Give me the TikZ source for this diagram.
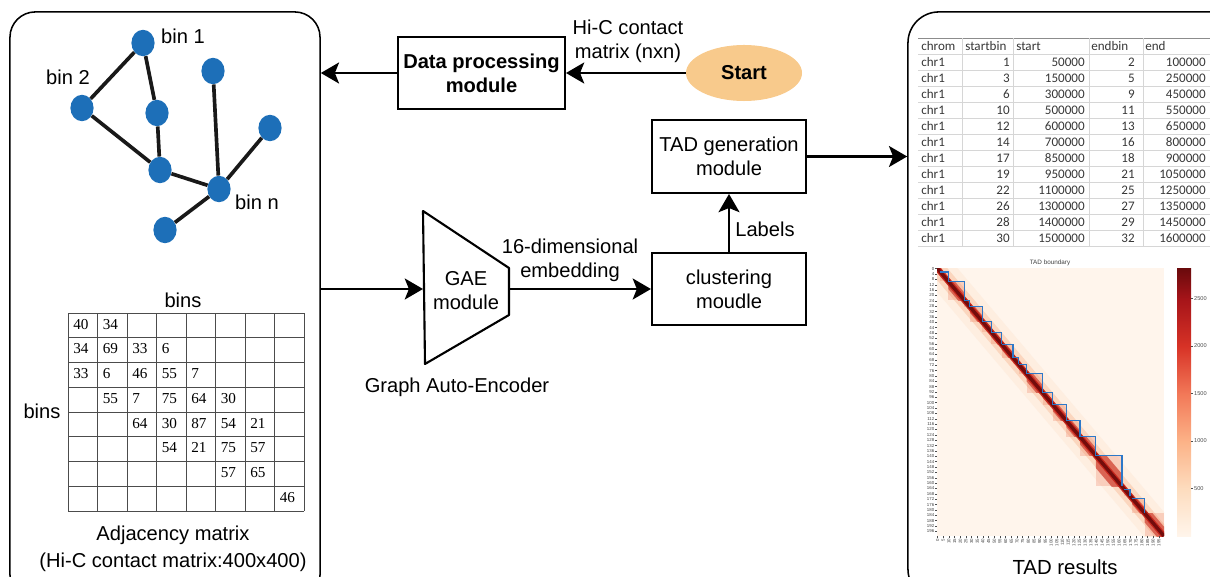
\documentclass[tikz,border=0pt]{standalone}
\usepackage{fontspec}
\setmainfont{Liberation Sans}
\newfontfamily\cellfont{Liberation Serif}
\newfontfamily\sheetfont{Carlito}
\usetikzlibrary{arrows.meta,shapes.geometric,positioning}

% colours
\definecolor{binblue}{RGB}{29,111,184}
\definecolor{startorange}{RGB}{248,202,140}
\definecolor{sheetgrid}{RGB}{214,214,214}
\definecolor{sheettext}{RGB}{55,55,55}
\definecolor{hmbg}{RGB}{255,245,236}
\definecolor{hmhalo}{RGB}{254,238,224}
\definecolor{hmband}{RGB}{251,214,190}
\definecolor{hmtad}{RGB}{240,135,105}
\definecolor{hmred}{RGB}{200,40,30}
\definecolor{hmdark}{RGB}{115,12,12}
\definecolor{tadblue}{RGB}{45,120,200}
\definecolor{cb0}{RGB}{255,245,235}
\definecolor{cb1}{RGB}{253,220,190}
\definecolor{cb2}{RGB}{252,178,135}
\definecolor{cb3}{RGB}{242,120,88}
\definecolor{cb4}{RGB}{215,50,38}
\definecolor{cb5}{RGB}{165,20,25}
\definecolor{cb6}{RGB}{105,10,12}

\tikzset{
  flow/.style={-{Stealth[length=13pt,width=15pt,inset=3pt]}, line width=1.5pt},
  module/.style={draw, line width=1.5pt, align=center, minimum width=3.85cm, minimum height=1.82cm, inner sep=2pt},
  panel/.style={draw, line width=1.1pt, minimum height=14.7cm},
  binnode/.style={ellipse, fill=binblue, minimum width=0.58cm, minimum height=0.66cm, inner sep=0pt},
  link/.style={line width=2.6pt, black!90},
  lab/.style={font=\fontsize{14.3}{17}\selectfont, align=center, inner sep=1pt},
  gridline/.style={line width=0.6pt, black!70},
  cellnum/.style={font=\cellfont\fontsize{10.8}{12}\selectfont, anchor=mid west, inner sep=0pt},
  sheet/.style={font=\sheetfont\fontsize{9.3}{11}\selectfont, text=sheettext, inner sep=0pt},
  ticklab/.style={font=\fontsize{3.1}{3.3}\selectfont, text=black!75, inner sep=0.3pt},
}

\begin{document}
\begin{tikzpicture}[x=0.025cm, y=-0.025cm, font=\fontsize{14.3}{17}\selectfont]
\useasboundingbox (0,0) rectangle (1210,577);
\clip (0,0) rectangle (1210,577);

% Panels
\node[panel, minimum width=7.75cm, rounded corners=18pt] (graphpanel) at (165,306) {};
\node[panel, minimum width=8.3cm, rounded corners=22pt] (resultpanel) at (1074,306) {};

% Graph of bins
\node[binnode] (b1) at (143,43) {};
\node[binnode] (b2) at (82,108) {};
\node[binnode] (b3) at (157,113) {};
\node[binnode] (b4) at (213,71) {};
\node[binnode] (b5) at (270,128) {};
\node[binnode] (b6) at (160,170) {};
\node[binnode] (bn) at (219,189) {};
\node[binnode] (b7) at (165,230) {};
\foreach \u/\v in {b1/b2, b1/b3, b3/b6, b2/b6, b6/bn, b4/bn, b5/bn, bn/b7}
  \draw[link] (\u) -- (\v);
\node[lab] (lb1) at (183,36) {bin 1};
\node[lab] (lb2) at (68,77) {bin 2};
\node[lab] (lbn) at (257,202) {bin n};

% Adjacency matrix
\foreach \k in {0,...,8} {
  \draw[gridline] (68+29.5*\k,313) -- (68+29.5*\k,511);
  \draw[gridline] (68,313+24.75*\k) -- (304,313+24.75*\k);
}
\foreach \r/\c/\v in {1/1/40, 1/2/34,
    2/1/34, 2/2/69, 2/3/33, 2/4/6,
    3/1/33, 3/2/6, 3/3/46, 3/4/55, 3/5/7,
    4/2/55, 4/3/7, 4/4/75, 4/5/64, 4/6/30,
    5/3/64, 5/4/30, 5/5/87, 5/6/54, 5/7/21,
    6/4/54, 6/5/21, 6/6/75, 6/7/57,
    7/6/57, 7/7/65,
    8/8/46}
  \node[cellnum] (m\r-\c) at (68+29.5*\c-24.5,313+24.75*\r-12.4) {\v};
\node[lab] (mtop) at (183,300) {bins};
\node[lab] (mleft) at (42,411) {bins};
\node[lab] (mcap1) at (173,535) {Adjacency matrix};
\node[lab] (mcap2) at (173,562) {(Hi-C contact matrix:400x400)};

% Modules
\node[module, font=\fontsize{14.3}{17}\selectfont\bfseries, minimum width=4.17cm] (dpm) at (481.5,73) {Data processing\\module};
\node[ellipse, fill=startorange, minimum width=2.9cm, minimum height=1.4cm, font=\fontsize{14.3}{17}\selectfont\bfseries] (start) at (744,73) {Start};
\node[module] (tadgen) at (729,156.5) {TAD generation\\module};
\node[module] (clus) at (729,289) {clustering\\moudle};

% GAE trapezoid
\coordinate (gaeTL) at (423,211);
\coordinate (gaeTR) at (509,268);
\coordinate (gaeBR) at (509,315);
\coordinate (gaeBL) at (425,364);
\coordinate (gaeL) at (423,289);
\coordinate (gaeR) at (509,289);
\draw[line width=1.5pt, line join=round] (gaeTL) -- (gaeTR) -- (gaeBR) -- (gaeBL) -- cycle;
\node[lab] (gae) at (466,291) {GAE\\module};
\node[lab] (gaecap) at (457,387) {Graph Auto-Encoder};

% Connectors
\draw[flow] (start.west) -- (dpm.east);
\node[lab] (hiclab) at (628,41) {Hi-C contact\\matrix (nxn)};
\draw[flow] (dpm.west) -- (dpm.west -| graphpanel.east);
\draw[flow] (graphpanel.east |- gaeL) -- (gaeL);
\draw[flow] (gaeR) -- (clus.west);
\node[lab] (emblab) at (570,260) {16-dimensional\\embedding};
\draw[flow] (clus.north) -- (tadgen.south);
\node[lab] (labels) at (765,229) {Labels};
\draw[flow] (tadgen.east) -- (tadgen.east -| resultpanel.west);

% TAD table
\foreach \k in {0,...,13}
  \draw[sheetgrid, line width=0.5pt] (918,38.5+16*\k) -- (1210,38.5+16*\k);
\draw[black!45, line width=0.7pt] (918,38.5) -- (1210,38.5);
\foreach \xx in {962,1013,1089,1143}
  \draw[sheetgrid, line width=0.5pt] (\xx,38.5) -- (\xx,246.5);
\node[sheet, anchor=mid west] (hd1) at (921,46.5) {chrom};
\node[sheet, anchor=mid west] (hd2) at (965,46.5) {startbin};
\node[sheet, anchor=mid west] (hd3) at (1016,46.5) {start};
\node[sheet, anchor=mid west] (hd4) at (1091,46.5) {endbin};
\node[sheet, anchor=mid west] (hd5) at (1145,46.5) {end};
\foreach \sb/\st/\eb/\en [count=\i] in {1/50000/2/100000, 3/150000/5/250000,
    6/300000/9/450000, 10/500000/11/550000, 12/600000/13/650000,
    14/700000/16/800000, 17/850000/18/900000, 19/950000/21/1050000,
    22/1100000/25/1250000, 26/1300000/27/1350000, 28/1400000/29/1450000,
    30/1500000/32/1600000} {
  \node[sheet, anchor=mid west] (chr\i) at (921,46.5+16*\i) {chr1};
  \node[sheet, anchor=mid east] (sb\i) at (1010,46.5+16*\i) {\sb};
  \node[sheet, anchor=mid east] (st\i) at (1085,46.5+16*\i) {\st};
  \node[sheet, anchor=mid east] (eb\i) at (1135,46.5+16*\i) {\eb};
  \node[sheet, anchor=mid east] (en\i) at (1206,46.5+16*\i) {\en};
}

% Heatmap of TAD boundaries
\node[font=\fontsize{4.5}{5}\selectfont, text=black!75, inner sep=0pt] (hmtitle) at (1050,263) {TAD boundary};
\begin{scope}[shift={(937,268)}, xscale=1.135, yscale=1.34]
  \begin{scope}
    \clip (0,0) rectangle (200,200);
    \fill[hmbg] (0,0) rectangle (200,200);
    \draw[hmhalo, line width=22pt] (0,0) -- (200,200);
    \draw[hmband, line width=11pt] (0,0) -- (200,200);
    \foreach \a/\b in {0/3, 3/10, 10/24, 24/29, 29/40, 40/48, 48/57, 57/67, 67/72, 72/79,
        79/93, 93/102, 102/114, 114/126, 126/140, 140/163, 163/165, 165/170, 172/183, 183/200} {
      \fill[hmtad, opacity=0.3] (\a,\a) rectangle (\b,\b);
      \begin{scope}
        \clip (\a,\a) rectangle (\b,\b);
        \draw[hmred, opacity=0.6, line width={0.5pt*(\b-\a)}] (\a,\a) -- (\b,\b);
      \end{scope}
    }
    \draw[hmred, line width=4.2pt] (0,0) -- (200,200);
    \draw[hmdark, line width=2.4pt] (0,0) -- (200,200);
    \foreach \a/\b in {3/10, 10/24, 24/29, 29/40, 40/48, 48/57, 57/67, 67/72, 72/79,
        79/93, 93/102, 102/114, 114/126, 126/140, 140/163, 165/170, 172/183}
      \draw[tadblue, line width=0.8pt] (\a,\a) -- (\b,\a) -- (\b,\b);
  \end{scope}
  \foreach \t in {0,4,...,196} {
    \draw[black!70, line width=0.3pt] (-1.6,\t+0.5) -- (0,\t+0.5);
    \node[ticklab, anchor=east] (yt\t) at (-1.8,\t+0.5) {\t};
  }
  \foreach \t in {0,5,...,195} {
    \draw[black!70, line width=0.3pt] (\t+0.5,200) -- (\t+0.5,201.4);
    \node[ticklab, rotate=90, anchor=east] (xt\t) at (\t+0.5,201.6) {\t};
  }
\end{scope}

% Colour bar
\foreach \ya/\yb/\ctop/\cbot in {268/298.8/cb6/cb5, 298.5/346.3/cb5/cb4, 346/393.8/cb4/cb3,
    393.5/441.3/cb3/cb2, 441/488.8/cb2/cb1, 488.5/536/cb1/cb0}
  \shade[top color=\ctop, bottom color=\cbot] (1177,\ya) rectangle (1191,\yb);
\foreach \v/\yy in {500/488.5, 1000/441, 1500/393.5, 2000/346, 2500/298.5} {
  \draw[black!70, line width=0.3pt] (1191,\yy) -- (1193,\yy);
  \node[font=\fontsize{4}{5}\selectfont, text=black!70, anchor=west, inner sep=0.3pt] (cbl\v) at (1193.5,\yy) {\v};
}
\node[font=\fontsize{14.5}{17}\selectfont] (tadres) at (1065,567) {TAD results};

\end{tikzpicture}
\end{document}
